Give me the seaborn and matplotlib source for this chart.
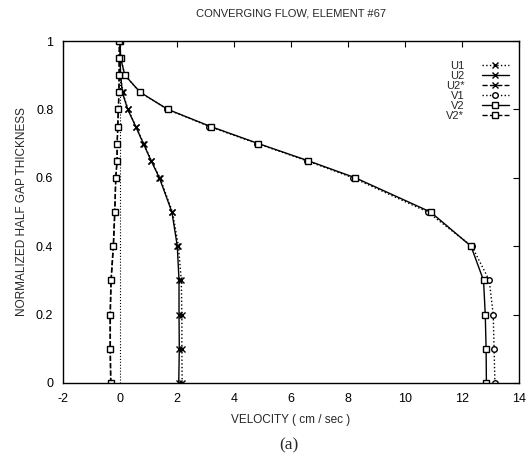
import matplotlib
matplotlib.use("Agg")
import matplotlib.pyplot as plt
import seaborn as sns
import pandas as pd
import numpy as np

# ---- data ----
levels = [0, 0.1, 0.2, 0.3, 0.4, 0.5, 0.6, 0.65, 0.7, 0.75, 0.8, 0.85, 0.9, 0.95, 1.0]
U1 = [2.18, 2.17, 2.17, 2.15, 2.05, 1.84, 1.40, 1.10, 0.83, 0.56, 0.28, 0.09, 0.02, 0.0, 0.0]
U2 = [2.06, 2.08, 2.07, 2.07, 2.01, 1.82, 1.38, 1.09, 0.82, 0.55, 0.27, 0.08, 0.02, 0.0, 0.0]
U2s = [-0.32, -0.34, -0.34, -0.31, -0.23, -0.18, -0.15, -0.10, -0.10, -0.08, -0.06, -0.04, -0.03, -0.03, -0.02]
V1 = [13.16, 13.13, 13.10, 12.96, 12.35, 10.80, 8.18, 6.55, 4.82, 3.14, 1.66, 0.70, 0.17, 0.02, 0.0]
V2 = [12.86, 12.85, 12.82, 12.76, 12.32, 10.90, 8.26, 6.60, 4.86, 3.18, 1.68, 0.71, 0.17, 0.02, 0.0]
V2s = [-0.33, -0.35, -0.35, -0.32, -0.24, -0.19, -0.15, -0.11, -0.10, -0.08, -0.06, -0.04, -0.03, -0.03, -0.02]
series_names = ["U1", "U2", "U2*", "V1", "V2", "V2*"]
series_vals = [U1, U2, U2s, V1, V2, V2s]
xticks = [-2, 0, 2, 4, 6, 8, 10, 12, 14]
yticks = [0, 0.2, 0.4, 0.6, 0.8, 1]
ytick_labels = ["0", "0.2", "0.4", "0.6", "0.8", "1"]

styles = {
    "U1": dict(ls=":", marker="x", mfc="black"),
    "U2": dict(ls="-", marker="x", mfc="black"),
    "U2*": dict(ls="--", marker="x", mfc="black"),
    "V1": dict(ls=":", marker="o", mfc="white"),
    "V2": dict(ls="-", marker="s", mfc="white"),
    "V2*": dict(ls="--", marker="s", mfc="white"),
}

sns.set_theme(style="white")
plt.rcParams["font.family"] = ["Liberation Sans", "DejaVu Sans"]

fig = plt.figure(figsize=(5.30, 4.59), dpi=100)
ax = fig.add_axes([0.119, 0.1656, 0.860, 0.745])

for name, vals in zip(series_names, series_vals):
    st = styles[name]
    sns.lineplot(x=vals, y=levels, sort=False, estimator=None, ax=ax,
                 color="black", linestyle=st["ls"], linewidth=1.0,
                 marker=st["marker"], markersize=4, markerfacecolor=st["mfc"],
                 markeredgecolor="black", markeredgewidth=1.0, label=name)

ax.axvline(0, color="black", linestyle=":", linewidth=0.8, zorder=0)

ax.set_xlim(-2, 14)
ax.set_ylim(0, 1)
ax.set_xticks(xticks)
ax.set_yticks(yticks)
ax.set_xticklabels([str(t) for t in xticks])
ax.set_yticklabels(ytick_labels)
ax.tick_params(direction="in", length=4, width=0.8, top=True, right=True,
               labelsize=9, colors="black", pad=7)
for sp in ax.spines.values():
    sp.set_color("black")
    sp.set_linewidth(1.0)

ax.set_xlabel("VELOCITY ( cm / sec )", fontsize=8.5, labelpad=7)
ax.set_ylabel("NORMALIZED HALF GAP THICKNESS", fontsize=8.5, labelpad=6)
ax.set_title("CONVERGING FLOW, ELEMENT #67", fontsize=8, pad=18)
fig.text(0.545, 0.03, "(a)", fontsize=12.5, family="Liberation Serif",
         ha="center", va="center")

leg = ax.legend(loc="upper right", bbox_to_anchor=(0.995, 0.965), frameon=False,
                markerfirst=False, fontsize=8, handlelength=2.4,
                labelspacing=0.0, handletextpad=1.6, borderpad=0.2)
for t in leg.get_texts():
    t.set_ha("right")

fig.savefig("out.png", dpi=100)
